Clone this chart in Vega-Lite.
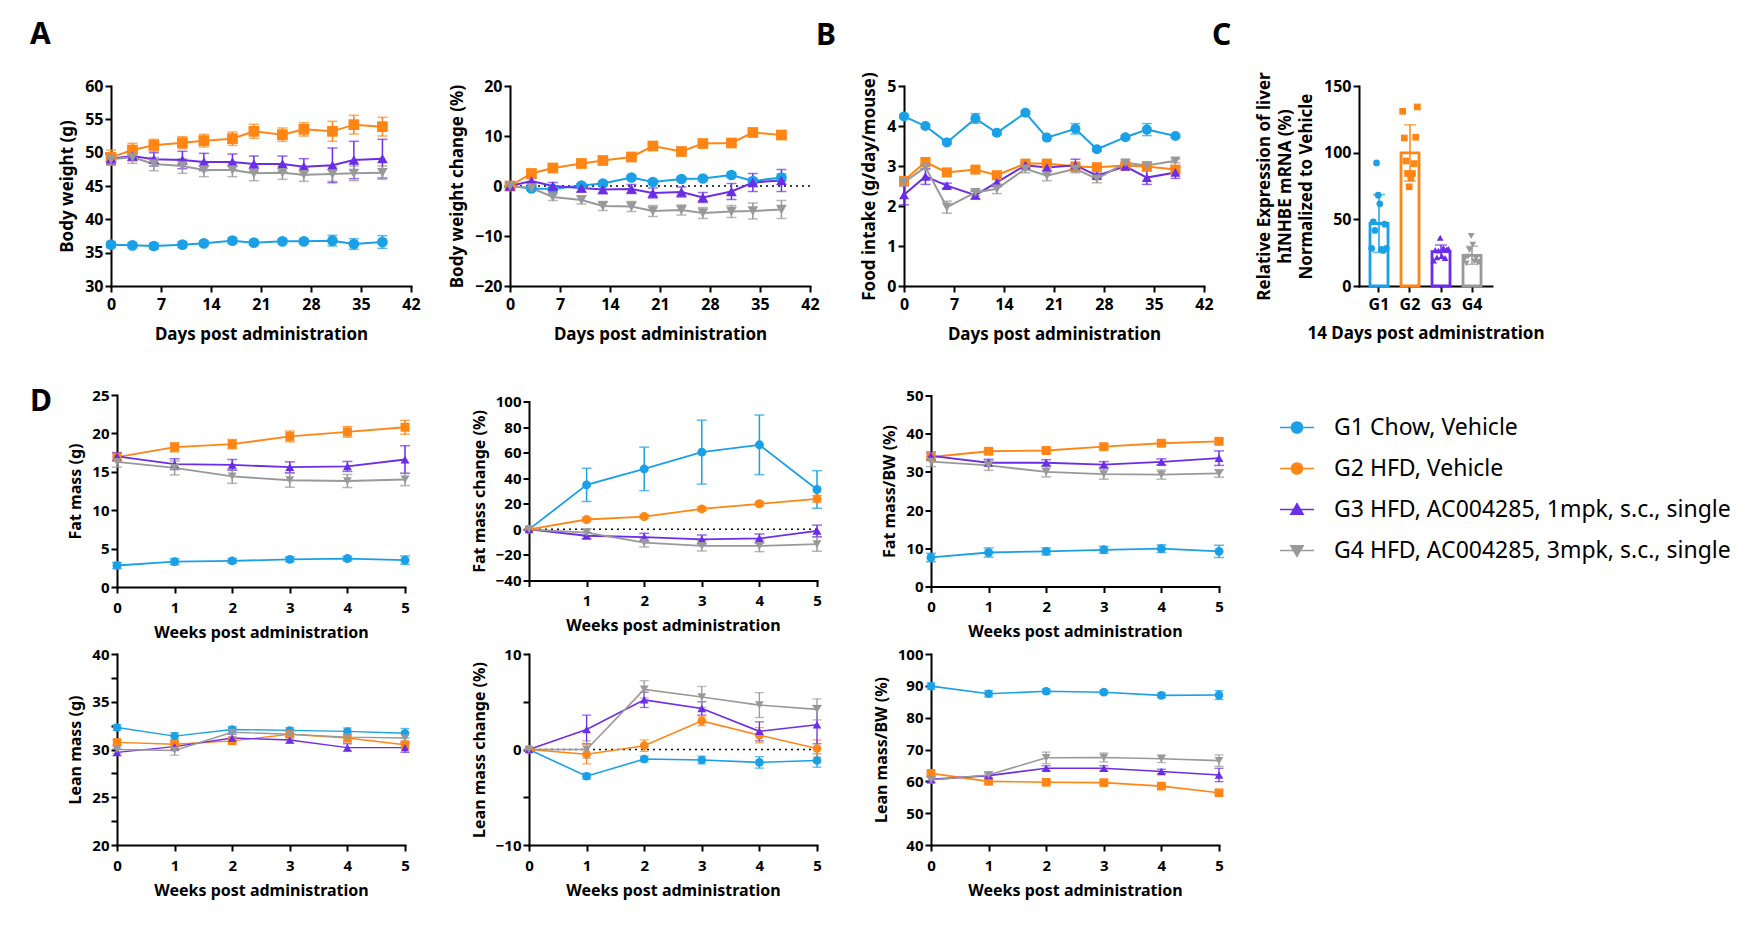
{
  "$schema": "https://vega.github.io/schema/vega-lite/v6.json",
  "background": "white",
  "padding": {"left": 30, "top": 20, "right": 5, "bottom": 5},
  "config": {
    "font": "Noto Sans",
    "view": {"stroke": null},
    "axis": {
      "domainColor": "#000", "domainWidth": 2, "domainCap": "square",
      "tickColor": "#000", "tickWidth": 2, "tickSize": 6,
      "labelFont": "Noto Sans", "labelFontWeight": "bold", "labelFontSize": 15, "labelColor": "#000", "labelPadding": 2,
      "labelFlush": false, "labelOverlap": false,
      "titleFont": "Noto Sans", "titleFontWeight": "bold", "titleFontSize": 16, "titleColor": "#000", "titlePadding": 8,
      "grid": false
    },
    "axisX": {"labelPadding": 7, "titlePadding": 9},
    "title": {"font": "Noto Sans", "fontWeight": "bold", "fontSize": 30, "color": "#000", "anchor": "start", "frame": "group", "baseline": "alphabetic"}
  },
  "resolve": {"scale": {"shape": "independent"}, "legend": {"color": "independent", "shape": "independent", "stroke": "independent"}},
  "columns": 1,
  "spacing": 44,
  "datasets": {
    "bw": [
      {"g":"G1","day":0,"value":36.2,"err":0.45},{"g":"G1","day":3,"value":36.1,"err":0.4},{"g":"G1","day":6,"value":36.0,"err":0.45},{"g":"G1","day":10,"value":36.2,"err":0.45},{"g":"G1","day":13,"value":36.4,"err":0.35},{"g":"G1","day":17,"value":36.8,"err":0.45},{"g":"G1","day":20,"value":36.5,"err":0.35},{"g":"G1","day":24,"value":36.7,"err":0.35},{"g":"G1","day":27,"value":36.7,"err":0.35},{"g":"G1","day":31,"value":36.8,"err":0.8},{"g":"G1","day":34,"value":36.3,"err":0.8},{"g":"G1","day":38,"value":36.6,"err":0.95},
      {"g":"G2","day":0,"value":49.3,"err":1.1},{"g":"G2","day":3,"value":50.4,"err":1.0},{"g":"G2","day":6,"value":51.1,"err":0.9},{"g":"G2","day":10,"value":51.5,"err":0.9},{"g":"G2","day":13,"value":51.8,"err":0.95},{"g":"G2","day":17,"value":52.1,"err":1.0},{"g":"G2","day":20,"value":53.2,"err":1.05},{"g":"G2","day":24,"value":52.7,"err":1.0},{"g":"G2","day":27,"value":53.5,"err":1.0},{"g":"G2","day":31,"value":53.2,"err":1.5},{"g":"G2","day":34,"value":54.2,"err":1.4},{"g":"G2","day":38,"value":53.9,"err":1.4},
      {"g":"G3","day":0,"value":49.1,"err":0.8},{"g":"G3","day":3,"value":49.5,"err":0.7},{"g":"G3","day":6,"value":49.0,"err":1.0},{"g":"G3","day":10,"value":48.9,"err":1.3},{"g":"G3","day":13,"value":48.6,"err":1.3},{"g":"G3","day":17,"value":48.6,"err":1.2},{"g":"G3","day":20,"value":48.3,"err":1.2},{"g":"G3","day":24,"value":48.3,"err":1.2},{"g":"G3","day":27,"value":47.9,"err":1.2},{"g":"G3","day":31,"value":48.1,"err":2.6},{"g":"G3","day":34,"value":48.9,"err":2.8},{"g":"G3","day":38,"value":49.1,"err":2.9},
      {"g":"G4","day":0,"value":49.0,"err":0.9},{"g":"G4","day":3,"value":49.3,"err":0.9},{"g":"G4","day":6,"value":48.3,"err":1.0},{"g":"G4","day":10,"value":48.0,"err":1.1},{"g":"G4","day":13,"value":47.4,"err":1.0},{"g":"G4","day":17,"value":47.4,"err":1.0},{"g":"G4","day":20,"value":46.9,"err":1.1},{"g":"G4","day":24,"value":47.0,"err":1.0},{"g":"G4","day":27,"value":46.7,"err":1.0},{"g":"G4","day":31,"value":46.8,"err":1.1},{"g":"G4","day":34,"value":46.9,"err":1.1},{"g":"G4","day":38,"value":47.0,"err":1.0}
    ],
    "bwc": [
      {"g":"G1","day":0,"value":0,"err":0},{"g":"G1","day":3,"value":-0.5,"err":0.3},{"g":"G1","day":6,"value":-0.6,"err":0.3},{"g":"G1","day":10,"value":0.1,"err":0.3},{"g":"G1","day":13,"value":0.5,"err":0.3},{"g":"G1","day":17,"value":1.7,"err":0.4},{"g":"G1","day":20,"value":0.8,"err":0.4},{"g":"G1","day":24,"value":1.4,"err":0.4},{"g":"G1","day":27,"value":1.5,"err":0.4},{"g":"G1","day":31,"value":2.2,"err":0.5},{"g":"G1","day":34,"value":1.0,"err":0.5},{"g":"G1","day":38,"value":1.7,"err":0.7},
      {"g":"G2","day":0,"value":0,"err":0},{"g":"G2","day":3,"value":2.5,"err":0.3},{"g":"G2","day":6,"value":3.6,"err":0.3},{"g":"G2","day":10,"value":4.5,"err":0.3},{"g":"G2","day":13,"value":5.1,"err":0.3},{"g":"G2","day":17,"value":5.8,"err":0.35},{"g":"G2","day":20,"value":8.0,"err":0.4},{"g":"G2","day":24,"value":6.9,"err":0.4},{"g":"G2","day":27,"value":8.5,"err":0.4},{"g":"G2","day":31,"value":8.6,"err":0.4},{"g":"G2","day":34,"value":10.7,"err":0.45},{"g":"G2","day":38,"value":10.2,"err":0.45},
      {"g":"G3","day":0,"value":0,"err":0},{"g":"G3","day":3,"value":1.0,"err":0.5},{"g":"G3","day":6,"value":0.0,"err":0.7},{"g":"G3","day":10,"value":-0.4,"err":0.8},{"g":"G3","day":13,"value":-0.7,"err":0.8},{"g":"G3","day":17,"value":-0.6,"err":0.9},{"g":"G3","day":20,"value":-1.4,"err":1.0},{"g":"G3","day":24,"value":-1.2,"err":1.0},{"g":"G3","day":27,"value":-2.3,"err":1.0},{"g":"G3","day":31,"value":-1.1,"err":1.6},{"g":"G3","day":34,"value":0.7,"err":1.8},{"g":"G3","day":38,"value":1.1,"err":2.2},
      {"g":"G4","day":0,"value":0,"err":0},{"g":"G4","day":3,"value":-0.4,"err":0.5},{"g":"G4","day":6,"value":-2.2,"err":0.7},{"g":"G4","day":10,"value":-2.8,"err":0.8},{"g":"G4","day":13,"value":-4.0,"err":0.9},{"g":"G4","day":17,"value":-4.1,"err":1.0},{"g":"G4","day":20,"value":-5.0,"err":1.1},{"g":"G4","day":24,"value":-4.8,"err":1.0},{"g":"G4","day":27,"value":-5.4,"err":1.1},{"g":"G4","day":31,"value":-5.1,"err":1.2},{"g":"G4","day":34,"value":-5.0,"err":1.6},{"g":"G4","day":38,"value":-4.7,"err":1.8}
    ],
    "food": [
      {"g":"G1","day":0,"value":4.24,"err":0.05},{"g":"G1","day":3,"value":4.0,"err":0.04},{"g":"G1","day":6,"value":3.59,"err":0.04},{"g":"G1","day":10,"value":4.19,"err":0.12},{"g":"G1","day":13,"value":3.83,"err":0.05},{"g":"G1","day":17,"value":4.33,"err":0.04},{"g":"G1","day":20,"value":3.71,"err":0.05},{"g":"G1","day":24,"value":3.93,"err":0.13},{"g":"G1","day":27,"value":3.42,"err":0.05},{"g":"G1","day":31,"value":3.72,"err":0.04},{"g":"G1","day":34,"value":3.91,"err":0.15},{"g":"G1","day":38,"value":3.75,"err":0.04},
      {"g":"G2","day":0,"value":2.63,"err":0.05},{"g":"G2","day":3,"value":3.1,"err":0.06},{"g":"G2","day":6,"value":2.84,"err":0.04},{"g":"G2","day":10,"value":2.91,"err":0.04},{"g":"G2","day":13,"value":2.77,"err":0.05},{"g":"G2","day":17,"value":3.06,"err":0.05},{"g":"G2","day":20,"value":3.06,"err":0.05},{"g":"G2","day":24,"value":2.99,"err":0.06},{"g":"G2","day":27,"value":2.97,"err":0.05},{"g":"G2","day":31,"value":3.01,"err":0.05},{"g":"G2","day":34,"value":2.99,"err":0.05},{"g":"G2","day":38,"value":2.91,"err":0.06},
      {"g":"G3","day":0,"value":2.28,"err":0.25},{"g":"G3","day":3,"value":2.74,"err":0.2},{"g":"G3","day":6,"value":2.51,"err":0.06},{"g":"G3","day":10,"value":2.27,"err":0.1},{"g":"G3","day":13,"value":2.59,"err":0.1},{"g":"G3","day":17,"value":3.02,"err":0.06},{"g":"G3","day":20,"value":2.96,"err":0.08},{"g":"G3","day":24,"value":3.02,"err":0.15},{"g":"G3","day":27,"value":2.76,"err":0.06},{"g":"G3","day":31,"value":2.99,"err":0.06},{"g":"G3","day":34,"value":2.71,"err":0.17},{"g":"G3","day":38,"value":2.84,"err":0.15},
      {"g":"G4","day":0,"value":2.59,"err":0.1},{"g":"G4","day":3,"value":2.97,"err":0.06},{"g":"G4","day":6,"value":1.97,"err":0.15},{"g":"G4","day":10,"value":2.34,"err":0.08},{"g":"G4","day":13,"value":2.43,"err":0.12},{"g":"G4","day":17,"value":2.93,"err":0.1},{"g":"G4","day":20,"value":2.76,"err":0.13},{"g":"G4","day":24,"value":2.93,"err":0.1},{"g":"G4","day":27,"value":2.68,"err":0.1},{"g":"G4","day":31,"value":3.08,"err":0.08},{"g":"G4","day":34,"value":3.01,"err":0.05},{"g":"G4","day":38,"value":3.13,"err":0.05}
    ],
    "liver": [
      {"g":"G1","animal":1,"value":28.2},{"g":"G1","animal":2,"value":48.2},{"g":"G1","animal":3,"value":41.7},{"g":"G1","animal":4,"value":92.3},{"g":"G1","animal":5,"value":68.1},{"g":"G1","animal":6,"value":61.6},{"g":"G1","animal":7,"value":27.5},{"g":"G1","animal":8,"value":26.7},{"g":"G1","animal":9,"value":46.4},{"g":"G1","animal":10,"value":28.2},
      {"g":"G2","animal":1,"value":131.0},{"g":"G2","animal":2,"value":111.0},{"g":"G2","animal":3,"value":93.8},{"g":"G2","animal":4,"value":84.4},{"g":"G2","animal":5,"value":74.4},{"g":"G2","animal":6,"value":81.0},{"g":"G2","animal":7,"value":84.4},{"g":"G2","animal":8,"value":91.8},{"g":"G2","animal":9,"value":111.6},{"g":"G2","animal":10,"value":134.3},
      {"g":"G3","animal":1,"value":19.0},{"g":"G3","animal":2,"value":27.0},{"g":"G3","animal":3,"value":21.5},{"g":"G3","animal":4,"value":26.5},{"g":"G3","animal":5,"value":36.2},{"g":"G3","animal":6,"value":22.5},{"g":"G3","animal":7,"value":28.5},{"g":"G3","animal":8,"value":21.0},{"g":"G3","animal":9,"value":27.5},{"g":"G3","animal":10,"value":27.8},
      {"g":"G4","animal":1,"value":20.5},{"g":"G4","animal":2,"value":17.0},{"g":"G4","animal":3,"value":22.0},{"g":"G4","animal":4,"value":27.0},{"g":"G4","animal":5,"value":37.5},{"g":"G4","animal":6,"value":31.0},{"g":"G4","animal":7,"value":18.5},{"g":"G4","animal":8,"value":21.0},{"g":"G4","animal":9,"value":17.5},{"g":"G4","animal":10,"value":18.0}
    ],
    "fat": [
      {"g":"G1","week":0,"value":2.8,"err":0.4},{"g":"G1","week":1,"value":3.3,"err":0.4},{"g":"G1","week":2,"value":3.4,"err":0.3},{"g":"G1","week":3,"value":3.6,"err":0.3},{"g":"G1","week":4,"value":3.7,"err":0.3},{"g":"G1","week":5,"value":3.5,"err":0.55},
      {"g":"G2","week":0,"value":16.9,"err":0.5},{"g":"G2","week":1,"value":18.2,"err":0.6},{"g":"G2","week":2,"value":18.6,"err":0.6},{"g":"G2","week":3,"value":19.6,"err":0.7},{"g":"G2","week":4,"value":20.2,"err":0.7},{"g":"G2","week":5,"value":20.8,"err":0.9},
      {"g":"G3","week":0,"value":17.0,"err":0.5},{"g":"G3","week":1,"value":16.0,"err":0.7},{"g":"G3","week":2,"value":15.9,"err":0.7},{"g":"G3","week":3,"value":15.6,"err":0.7},{"g":"G3","week":4,"value":15.7,"err":0.65},{"g":"G3","week":5,"value":16.6,"err":1.8},
      {"g":"G4","week":0,"value":16.3,"err":0.7},{"g":"G4","week":1,"value":15.5,"err":0.9},{"g":"G4","week":2,"value":14.4,"err":0.9},{"g":"G4","week":3,"value":13.9,"err":0.9},{"g":"G4","week":4,"value":13.8,"err":0.85},{"g":"G4","week":5,"value":14.0,"err":0.8}
    ],
    "fatc": [
      {"g":"G1","week":0,"value":0,"err":0},{"g":"G1","week":1,"value":34.8,"err":13},{"g":"G1","week":2,"value":47.3,"err":17},{"g":"G1","week":3,"value":60.4,"err":25},{"g":"G1","week":4,"value":66.1,"err":23.3},{"g":"G1","week":5,"value":31.2,"err":14.7},
      {"g":"G2","week":0,"value":0,"err":0},{"g":"G2","week":1,"value":7.7,"err":1.5},{"g":"G2","week":2,"value":10.0,"err":1.5},{"g":"G2","week":3,"value":16.0,"err":1.5},{"g":"G2","week":4,"value":20.0,"err":1.5},{"g":"G2","week":5,"value":23.9,"err":2.5},
      {"g":"G3","week":0,"value":0,"err":0},{"g":"G3","week":1,"value":-5.0,"err":2.5},{"g":"G3","week":2,"value":-6.1,"err":3},{"g":"G3","week":3,"value":-7.9,"err":3.5},{"g":"G3","week":4,"value":-7.1,"err":3.5},{"g":"G3","week":5,"value":-1.2,"err":4.5},
      {"g":"G4","week":0,"value":0,"err":0},{"g":"G4","week":1,"value":-2.5,"err":3},{"g":"G4","week":2,"value":-10.3,"err":3.5},{"g":"G4","week":3,"value":-12.9,"err":4},{"g":"G4","week":4,"value":-12.9,"err":4.5},{"g":"G4","week":5,"value":-11.6,"err":5.5}
    ],
    "fatbw": [
      {"g":"G1","week":0,"value":7.6,"err":1.1},{"g":"G1","week":1,"value":8.9,"err":1.2},{"g":"G1","week":2,"value":9.2,"err":0.9},{"g":"G1","week":3,"value":9.6,"err":0.9},{"g":"G1","week":4,"value":9.9,"err":1.0},{"g":"G1","week":5,"value":9.2,"err":1.6},
      {"g":"G2","week":0,"value":33.9,"err":0.8},{"g":"G2","week":1,"value":35.4,"err":0.6},{"g":"G2","week":2,"value":35.6,"err":0.6},{"g":"G2","week":3,"value":36.6,"err":0.6},{"g":"G2","week":4,"value":37.5,"err":0.6},{"g":"G2","week":5,"value":38.0,"err":0.6},
      {"g":"G3","week":0,"value":34.2,"err":1.0},{"g":"G3","week":1,"value":32.4,"err":0.9},{"g":"G3","week":2,"value":32.4,"err":0.8},{"g":"G3","week":3,"value":31.9,"err":0.8},{"g":"G3","week":4,"value":32.6,"err":0.8},{"g":"G3","week":5,"value":33.6,"err":1.9},
      {"g":"G4","week":0,"value":32.7,"err":1.3},{"g":"G4","week":1,"value":31.7,"err":1.3},{"g":"G4","week":2,"value":30.0,"err":1.3},{"g":"G4","week":3,"value":29.4,"err":1.3},{"g":"G4","week":4,"value":29.3,"err":1.2},{"g":"G4","week":5,"value":29.6,"err":1.0}
    ],
    "lean": [
      {"g":"G1","week":0,"value":32.3,"err":0.3},{"g":"G1","week":1,"value":31.4,"err":0.35},{"g":"G1","week":2,"value":32.1,"err":0.3},{"g":"G1","week":3,"value":32.0,"err":0.3},{"g":"G1","week":4,"value":31.9,"err":0.35},{"g":"G1","week":5,"value":31.7,"err":0.5},
      {"g":"G2","week":0,"value":30.75,"err":0.25},{"g":"G2","week":1,"value":30.55,"err":0.3},{"g":"G2","week":2,"value":30.9,"err":0.3},{"g":"G2","week":3,"value":31.6,"err":0.3},{"g":"G2","week":4,"value":31.2,"err":0.4},{"g":"G2","week":5,"value":30.5,"err":0.4},
      {"g":"G3","week":0,"value":29.7,"err":0.35},{"g":"G3","week":1,"value":30.3,"err":0.4},{"g":"G3","week":2,"value":31.2,"err":0.4},{"g":"G3","week":3,"value":31.0,"err":0.35},{"g":"G3","week":4,"value":30.2,"err":0.4},{"g":"G3","week":5,"value":30.2,"err":0.5},
      {"g":"G4","week":0,"value":30.0,"err":0.4},{"g":"G4","week":1,"value":29.9,"err":0.5},{"g":"G4","week":2,"value":31.8,"err":0.45},{"g":"G4","week":3,"value":31.6,"err":0.5},{"g":"G4","week":4,"value":31.3,"err":0.5},{"g":"G4","week":5,"value":31.2,"err":0.5}
    ],
    "leanc": [
      {"g":"G1","week":0,"value":0,"err":0},{"g":"G1","week":1,"value":-2.8,"err":0.3},{"g":"G1","week":2,"value":-1.0,"err":0.3},{"g":"G1","week":3,"value":-1.1,"err":0.4},{"g":"G1","week":4,"value":-1.35,"err":0.6},{"g":"G1","week":5,"value":-1.15,"err":0.7},
      {"g":"G2","week":0,"value":0,"err":0},{"g":"G2","week":1,"value":-0.5,"err":1.0},{"g":"G2","week":2,"value":0.4,"err":0.6},{"g":"G2","week":3,"value":3.0,"err":0.5},{"g":"G2","week":4,"value":1.5,"err":0.8},{"g":"G2","week":5,"value":0.1,"err":0.9},
      {"g":"G3","week":0,"value":0,"err":0},{"g":"G3","week":1,"value":2.1,"err":1.5},{"g":"G3","week":2,"value":5.2,"err":0.8},{"g":"G3","week":3,"value":4.3,"err":0.7},{"g":"G3","week":4,"value":1.9,"err":1.0},{"g":"G3","week":5,"value":2.6,"err":2.0},
      {"g":"G4","week":0,"value":0,"err":0},{"g":"G4","week":1,"value":0.0,"err":0.9},{"g":"G4","week":2,"value":6.3,"err":0.9},{"g":"G4","week":3,"value":5.5,"err":1.1},{"g":"G4","week":4,"value":4.65,"err":1.3},{"g":"G4","week":5,"value":4.2,"err":1.1}
    ],
    "leanbw": [
      {"g":"G1","week":0,"value":89.9,"err":1.0},{"g":"G1","week":1,"value":87.5,"err":1.0},{"g":"G1","week":2,"value":88.3,"err":0.7},{"g":"G1","week":3,"value":88.0,"err":0.6},{"g":"G1","week":4,"value":87.0,"err":0.7},{"g":"G1","week":5,"value":87.1,"err":1.4},
      {"g":"G2","week":0,"value":62.5,"err":0.7},{"g":"G2","week":1,"value":60.0,"err":0.7},{"g":"G2","week":2,"value":59.7,"err":0.6},{"g":"G2","week":3,"value":59.6,"err":0.6},{"g":"G2","week":4,"value":58.5,"err":0.6},{"g":"G2","week":5,"value":56.4,"err":0.7},
      {"g":"G3","week":0,"value":60.6,"err":0.9},{"g":"G3","week":1,"value":61.8,"err":0.8},{"g":"G3","week":2,"value":64.1,"err":0.8},{"g":"G3","week":3,"value":64.1,"err":0.8},{"g":"G3","week":4,"value":63.1,"err":0.7},{"g":"G3","week":5,"value":62.0,"err":2.1},
      {"g":"G4","week":0,"value":60.4,"err":1.0},{"g":"G4","week":1,"value":62.0,"err":1.0},{"g":"G4","week":2,"value":67.4,"err":1.8},{"g":"G4","week":3,"value":67.5,"err":1.4},{"g":"G4","week":4,"value":67.1,"err":1.2},{"g":"G4","week":5,"value":66.5,"err":1.8}
    ]
  },
  "concat": [
    {
      "hconcat": [
        {
          "width": 300, "height": 200,
          "title": {"text": "A", "dx": -81, "offset": 28},
          "data": {"name": "bw"},
          "encoding": {
            "x": {"field": "day", "type": "quantitative", "title": "Days post administration", "scale": {"domain": [0, 42], "nice": false}, "axis": {"values": [0, 7, 14, 21, 28, 35, 42], "labelFontSize": 16, "titleFontSize": 17, "labelPadding": 4, "titlePadding": 14}},
            "y": {"field": "value", "type": "quantitative", "title": "Body weight (g)", "scale": {"domain": [30, 60], "nice": false, "zero": false}, "axis": {"values": [30, 35, 40, 45, 50, 55, 60], "labelFontSize": 16, "titleFontSize": 17}},
            "color": {"field": "g", "type": "nominal", "scale": {"domain": ["G1", "G2", "G3", "G4"], "range": ["#1AA0E6", "#FF8514", "#6B2DE8", "#999999"]}, "legend": null}
          },
          "layer": [
            {"mark": {"type": "errorbar", "thickness": 1.5, "ticks": {"size": 10, "thickness": 1.5}}, "encoding": {"yError": {"field": "err"}}},
            {"mark": {"type": "line", "strokeWidth": 2}},
            {"mark": {"type": "point", "filled": true, "size": 115, "opacity": 1}, "encoding": {"shape": {"field": "g", "type": "nominal", "scale": {"domain": ["G1", "G2", "G3", "G4"], "range": ["circle", "square", "triangle-up", "triangle-down"]}, "legend": null}}}
          ]
        },
        {"width": 99, "height": 200, "data": {"values": []}, "mark": "point"},
        {
          "width": 300, "height": 200,
          "layer": [
            {"data": {"values": [{}]}, "mark": {"type": "rule", "strokeDash": [2, 4], "color": "#000", "strokeWidth": 1.5}, "encoding": {"y": {"datum": 0, "type": "quantitative", "scale": {"domain": [-20, 20], "nice": false}}}},
            {
              "data": {"name": "bwc"},
              "encoding": {
                "x": {"field": "day", "type": "quantitative", "title": "Days post administration", "scale": {"domain": [0, 42], "nice": false}, "axis": {"values": [0, 7, 14, 21, 28, 35, 42], "labelFontSize": 16, "titleFontSize": 17, "labelPadding": 4, "titlePadding": 14}},
                "y": {"field": "value", "type": "quantitative", "title": "Body weight change (%)", "scale": {"domain": [-20, 20], "nice": false}, "axis": {"values": [-20, -10, 0, 10, 20], "labelFontSize": 16, "titleFontSize": 17}},
                "color": {"field": "g", "type": "nominal", "scale": {"domain": ["G1", "G2", "G3", "G4"], "range": ["#1AA0E6", "#FF8514", "#6B2DE8", "#999999"]}, "legend": null}
              },
              "layer": [
                {"mark": {"type": "errorbar", "thickness": 1.5, "ticks": {"size": 10, "thickness": 1.5}}, "encoding": {"yError": {"field": "err"}}},
                {"mark": {"type": "line", "strokeWidth": 2}},
                {"mark": {"type": "point", "filled": true, "size": 115, "opacity": 1}, "encoding": {"shape": {"field": "g", "type": "nominal", "scale": {"domain": ["G1", "G2", "G3", "G4"], "range": ["circle", "square", "triangle-up", "triangle-down"]}, "legend": null}}}
              ]
            }
          ]
        },
        {"width": 94, "height": 200, "data": {"values": []}, "mark": "point"},
        {
          "width": 300, "height": 200,
          "title": {"text": "B", "dx": -88, "offset": 21},
          "data": {"name": "food"},
          "encoding": {
            "x": {"field": "day", "type": "quantitative", "title": "Days post administration", "scale": {"domain": [0, 42], "nice": false}, "axis": {"values": [0, 7, 14, 21, 28, 35, 42], "labelFontSize": 16, "titleFontSize": 17, "labelPadding": 4, "titlePadding": 14}},
            "y": {"field": "value", "type": "quantitative", "title": "Food intake (g/day/mouse)", "scale": {"domain": [0, 5], "nice": false}, "axis": {"values": [0, 1, 2, 3, 4, 5], "labelFontSize": 16, "titleFontSize": 17}},
            "color": {"field": "g", "type": "nominal", "scale": {"domain": ["G1", "G2", "G3", "G4"], "range": ["#1AA0E6", "#FF8514", "#6B2DE8", "#999999"]}, "legend": null}
          },
          "layer": [
            {"mark": {"type": "errorbar", "thickness": 1.5, "ticks": {"size": 10, "thickness": 1.5}}, "encoding": {"yError": {"field": "err"}}},
            {"mark": {"type": "line", "strokeWidth": 2}},
            {"mark": {"type": "point", "filled": true, "size": 100, "opacity": 1}, "encoding": {"shape": {"field": "g", "type": "nominal", "scale": {"domain": ["G1", "G2", "G3", "G4"], "range": ["circle", "square", "triangle-up", "triangle-down"]}, "legend": null}}}
          ]
        },
        {"width": 155, "height": 200, "data": {"values": []}, "mark": "point"},
        {
          "width": 133, "height": 200,
          "title": {"text": "C", "dx": -147, "offset": 20.5},
          "data": {"name": "liver"},
          "encoding": {
            "x": {"field": "g", "type": "nominal", "title": "14 Days post administration", "scale": {"paddingInner": 0.42, "paddingOuter": 0.355}, "axis": {"labelAngle": 0, "labelFontSize": 16, "titleFontSize": 17, "labelPadding": 4, "titlePadding": 13}}
          },
          "layer": [
            {
              "mark": {"type": "bar", "fill": "white", "strokeWidth": 2.8},
              "encoding": {
                "y": {"aggregate": "mean", "field": "value", "type": "quantitative", "title": ["Relative Expression of liver", "hINHBE mRNA (%)", "Normalized to Vehicle"], "scale": {"domain": [0, 150], "nice": false}, "axis": {"values": [0, 50, 100, 150], "labelFontSize": 16, "titleFontSize": 17, "titleLineHeight": 21}},
                "stroke": {"field": "g", "type": "nominal", "scale": {"domain": ["G1", "G2", "G3", "G4"], "range": ["#1AA0E6", "#FF8514", "#6B2DE8", "#999999"]}, "legend": null}
              }
            },
            {
              "mark": {"type": "errorbar", "extent": "stdev", "thickness": 1.5, "ticks": {"size": 12, "thickness": 1.5}},
              "encoding": {
                "y": {"field": "value", "type": "quantitative", "title": ["Relative Expression of liver", "hINHBE mRNA (%)", "Normalized to Vehicle"]},
                "color": {"field": "g", "type": "nominal", "scale": {"domain": ["G1", "G2", "G3", "G4"], "range": ["#1AA0E6", "#FF8514", "#6B2DE8", "#999999"]}, "legend": null}
              }
            },
            {
              "mark": {"type": "point", "filled": true, "size": 45, "opacity": 1},
              "encoding": {
                "y": {"field": "value", "type": "quantitative", "title": ["Relative Expression of liver", "hINHBE mRNA (%)", "Normalized to Vehicle"]},
                "xOffset": {"field": "animal", "type": "nominal", "scale": {"paddingOuter": 1.5}},
                "color": {"field": "g", "type": "nominal", "scale": {"domain": ["G1", "G2", "G3", "G4"], "range": ["#1AA0E6", "#FF8514", "#6B2DE8", "#999999"]}, "legend": null},
                "shape": {"field": "g", "type": "nominal", "scale": {"domain": ["G1", "G2", "G3", "G4"], "range": ["circle", "square", "triangle-up", "triangle-down"]}, "legend": null}
              }
            }
          ]
        }
      ],
      "spacing": 0,
      "bounds": "flush",
      "resolve": {"scale": {"shape": "independent"}, "legend": {"color": "independent", "shape": "independent", "stroke": "independent"}}
    },
    {
      "concat": [
        {"width": 6, "height": 1, "data": {"values": []}, "mark": "point"},
        {
          "width": 288, "height": 192,
          "title": {"text": "D", "dx": -87, "offset": -28.5},
          "data": {"name": "fat"},
          "encoding": {
            "x": {"field": "week", "type": "quantitative", "title": "Weeks post administration", "scale": {"domain": [0, 5], "nice": false}, "axis": {"values": [0, 1, 2, 3, 4, 5]}},
            "y": {"field": "value", "type": "quantitative", "title": "Fat mass (g)", "scale": {"domain": [0, 25], "nice": false}, "axis": {"values": [0, 5, 10, 15, 20, 25]}},
            "color": {"field": "g", "type": "nominal", "scale": {"domain": ["G1", "G2", "G3", "G4"], "range": ["#1AA0E6", "#FF8514", "#6B2DE8", "#999999"]}, "legend": null}
          },
          "layer": [
            {"mark": {"type": "errorbar", "thickness": 1.5, "ticks": {"size": 10, "thickness": 1.5}}, "encoding": {"yError": {"field": "err"}}},
            {"mark": {"type": "line", "strokeWidth": 1.8}},
            {"mark": {"type": "point", "filled": true, "size": 80, "opacity": 1}, "encoding": {"shape": {"field": "g", "type": "nominal", "scale": {"domain": ["G1", "G2", "G3", "G4"], "range": ["circle", "square", "triangle-up", "triangle-down"]}, "legend": null}}}
          ]
        },
        {"width": 124, "height": 1, "data": {"values": []}, "mark": "point"},
        {
          "width": 288, "height": 179,
          "layer": [
            {"data": {"values": [{}]}, "mark": {"type": "rule", "strokeDash": [2, 4], "color": "#000", "strokeWidth": 1.5}, "encoding": {"y": {"datum": 0, "type": "quantitative", "scale": {"domain": [-40, 100], "nice": false}, "axis": {"values": [-40, -20, 0, 20, 40, 60, 80, 100], "labelOverlap": false}}}},
            {
              "data": {"name": "fatc"},
              "encoding": {
                "x": {"field": "week", "type": "quantitative", "title": "Weeks post administration", "scale": {"domain": [0, 5], "nice": false}, "axis": {"values": [0, 1, 2, 3, 4, 5], "labelExpr": "datum.value == 0 ? '' : datum.label"}},
                "y": {"field": "value", "type": "quantitative", "title": "Fat mass change (%)", "scale": {"domain": [-40, 100], "nice": false}, "axis": {"values": [-40, -20, 0, 20, 40, 60, 80, 100], "labelOverlap": false}},
                "color": {"field": "g", "type": "nominal", "scale": {"domain": ["G1", "G2", "G3", "G4"], "range": ["#1AA0E6", "#FF8514", "#6B2DE8", "#999999"]}, "legend": null}
              },
              "layer": [
                {"mark": {"type": "errorbar", "thickness": 1.5, "ticks": {"size": 10, "thickness": 1.5}}, "encoding": {"yError": {"field": "err"}}},
                {"mark": {"type": "line", "strokeWidth": 1.8}},
                {"transform": [{"filter": "datum.g == 'G1' || datum.g == 'G2'"}], "mark": {"type": "point", "shape": "circle", "filled": true, "size": 80, "opacity": 1}},
                {"transform": [{"filter": "datum.g == 'G3'"}], "mark": {"type": "point", "shape": "triangle-up", "filled": true, "size": 80, "opacity": 1}},
                {"transform": [{"filter": "datum.g == 'G4'"}], "mark": {"type": "point", "shape": "triangle-down", "filled": true, "size": 80, "opacity": 1}}
              ]
            }
          ]
        },
        {"width": 114, "height": 1, "data": {"values": []}, "mark": "point"},
        {
          "width": 288, "height": 191,
          "data": {"name": "fatbw"},
          "encoding": {
            "x": {"field": "week", "type": "quantitative", "title": "Weeks post administration", "scale": {"domain": [0, 5], "nice": false}, "axis": {"values": [0, 1, 2, 3, 4, 5]}},
            "y": {"field": "value", "type": "quantitative", "title": "Fat mass/BW (%)", "scale": {"domain": [0, 50], "nice": false}, "axis": {"values": [0, 10, 20, 30, 40, 50]}},
            "color": {
              "field": "g", "type": "nominal",
              "scale": {"domain": ["G1", "G2", "G3", "G4"], "range": ["#1AA0E6", "#FF8514", "#6B2DE8", "#999999"]},
              "legend": {
                "orient": "none", "legendX": 349, "legendY": 15, "title": null, "padding": 0, "offset": 0,
                "labelExpr": "datum.label == 'G1' ? 'G1 Chow, Vehicle' : datum.label == 'G2' ? 'G2 HFD, Vehicle' : datum.label == 'G3' ? 'G3 HFD, AC004285, 1mpk, s.c., single' : 'G4 HFD, AC004285, 3mpk, s.c., single'",
                "labelFont": "Noto Sans", "labelFontSize": 23, "labelFontWeight": "normal", "labelColor": "#000", "labelLimit": 600, "labelOffset": 20,
                "symbolSize": 1156, "symbolStrokeWidth": 0, "rowPadding": 12,
                "encode": {
                  "symbols": {
                    "update": {
                      "shape": {"signal": "datum.value == 'G3' ? 'M-1,-0.045H1V0.045H-1Z M0,-0.42L0.44,0.32L-0.44,0.32Z' : datum.value == 'G4' ? 'M-1,-0.045H1V0.045H-1Z M0,0.42L-0.44,-0.32L0.44,-0.32Z' : 'M-1,-0.045H1V0.045H-1Z M0.37,0A0.37,0.37 0 1,1 -0.37,0A0.37,0.37 0 1,1 0.37,0Z'"},
                      "fill": {"signal": "datum.value == 'G1' ? '#1AA0E6' : datum.value == 'G2' ? '#FF8514' : datum.value == 'G3' ? '#6B2DE8' : '#999999'"},
                      "opacity": {"value": 1},
                      "strokeWidth": {"value": 0}
                    }
                  }
                }
              }
            }
          },
          "layer": [
            {"mark": {"type": "errorbar", "thickness": 1.5, "ticks": {"size": 10, "thickness": 1.5}}, "encoding": {"yError": {"field": "err"}}},
            {"mark": {"type": "line", "strokeWidth": 1.8}},
            {"mark": {"type": "point", "filled": true, "size": 80, "opacity": 1}, "encoding": {"shape": {"field": "g", "type": "nominal", "scale": {"domain": ["G4", "G3", "G2", "G1"], "range": ["triangle-down", "triangle-up", "square", "circle"]}, "legend": null}}}
          ]
        },
        {"width": 6, "height": 1, "data": {"values": []}, "mark": "point"},
        {
          "width": 288, "height": 191,
          "data": {"name": "lean"},
          "encoding": {
            "x": {"field": "week", "type": "quantitative", "title": "Weeks post administration", "scale": {"domain": [0, 5], "nice": false}, "axis": {"values": [0, 1, 2, 3, 4, 5]}},
            "y": {"field": "value", "type": "quantitative", "title": "Lean mass (g)", "scale": {"domain": [20, 40], "nice": false, "zero": false}, "axis": {"values": [20, 22.5, 25, 27.5, 30, 32.5, 35, 37.5, 40], "labelExpr": "datum.value % 5 == 0 ? datum.label : ''"}},
            "color": {"field": "g", "type": "nominal", "scale": {"domain": ["G1", "G2", "G3", "G4"], "range": ["#1AA0E6", "#FF8514", "#6B2DE8", "#999999"]}, "legend": null}
          },
          "layer": [
            {"mark": {"type": "errorbar", "thickness": 1.3, "ticks": {"size": 9, "thickness": 1.3}}, "encoding": {"yError": {"field": "err"}}},
            {"mark": {"type": "line", "strokeWidth": 1.4}},
            {"mark": {"type": "point", "filled": true, "size": 70, "opacity": 1}, "encoding": {"shape": {"field": "g", "type": "nominal", "scale": {"domain": ["G1", "G2", "G3", "G4"], "range": ["circle", "square", "triangle-up", "triangle-down"]}, "legend": null}}}
          ]
        },
        {"width": 124, "height": 1, "data": {"values": []}, "mark": "point"},
        {
          "width": 288, "height": 191,
          "layer": [
            {"data": {"values": [{}]}, "mark": {"type": "rule", "strokeDash": [2, 4], "color": "#000", "strokeWidth": 1.5}, "encoding": {"y": {"datum": 0, "type": "quantitative", "scale": {"domain": [-10, 10], "nice": false}}}},
            {
              "data": {"name": "leanc"},
              "encoding": {
                "x": {"field": "week", "type": "quantitative", "title": "Weeks post administration", "scale": {"domain": [0, 5], "nice": false}, "axis": {"values": [0, 1, 2, 3, 4, 5]}},
                "y": {"field": "value", "type": "quantitative", "title": "Lean mass change (%)", "scale": {"domain": [-10, 10], "nice": false}, "axis": {"values": [-10, -5, 0, 5, 10], "labelExpr": "datum.value % 10 == 0 ? datum.label : ''"}},
                "color": {"field": "g", "type": "nominal", "scale": {"domain": ["G1", "G2", "G3", "G4"], "range": ["#1AA0E6", "#FF8514", "#6B2DE8", "#999999"]}, "legend": null}
              },
              "layer": [
                {"mark": {"type": "errorbar", "thickness": 1.3, "ticks": {"size": 9, "thickness": 1.3}}, "encoding": {"yError": {"field": "err"}}},
                {"mark": {"type": "line", "strokeWidth": 1.6}},
                {"transform": [{"filter": "datum.g == 'G1' || datum.g == 'G2'"}], "mark": {"type": "point", "shape": "circle", "filled": true, "size": 75, "opacity": 1}},
                {"transform": [{"filter": "datum.g == 'G3'"}], "mark": {"type": "point", "shape": "triangle-up", "filled": true, "size": 75, "opacity": 1}},
                {"transform": [{"filter": "datum.g == 'G4'"}], "mark": {"type": "point", "shape": "triangle-down", "filled": true, "size": 75, "opacity": 1}}
              ]
            }
          ]
        },
        {"width": 114, "height": 1, "data": {"values": []}, "mark": "point"},
        {
          "width": 288, "height": 191,
          "data": {"name": "leanbw"},
          "encoding": {
            "x": {"field": "week", "type": "quantitative", "title": "Weeks post administration", "scale": {"domain": [0, 5], "nice": false}, "axis": {"values": [0, 1, 2, 3, 4, 5]}},
            "y": {"field": "value", "type": "quantitative", "title": "Lean mass/BW (%)", "scale": {"domain": [40, 100], "nice": false, "zero": false}, "axis": {"values": [40, 50, 60, 70, 80, 90, 100]}},
            "color": {"field": "g", "type": "nominal", "scale": {"domain": ["G1", "G2", "G3", "G4"], "range": ["#1AA0E6", "#FF8514", "#6B2DE8", "#999999"]}, "legend": null}
          },
          "layer": [
            {"mark": {"type": "errorbar", "thickness": 1.3, "ticks": {"size": 9, "thickness": 1.3}}, "encoding": {"yError": {"field": "err"}}},
            {"mark": {"type": "line", "strokeWidth": 1.6}},
            {"mark": {"type": "point", "filled": true, "size": 75, "opacity": 1}, "encoding": {"shape": {"field": "g", "type": "nominal", "scale": {"domain": ["G1", "G2", "G3", "G4"], "range": ["circle", "square", "triangle-up", "triangle-down"]}, "legend": null}}}
          ]
        }
      ],
      "columns": 6,
      "spacing": {"row": 67, "column": 0},
      "bounds": "flush",
      "center": true,
      "resolve": {"scale": {"shape": "independent"}, "legend": {"color": "independent", "shape": "independent", "stroke": "independent"}}
    }
  ]
}
